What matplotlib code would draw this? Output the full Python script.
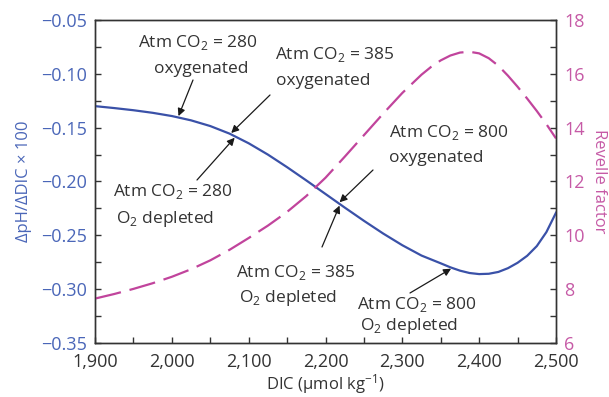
import matplotlib
matplotlib.use('Agg')
import matplotlib.pyplot as plt
from matplotlib.ticker import MultipleLocator, FuncFormatter
import numpy as np

plt.rcParams['font.family'] = ['Open Sans', 'DejaVu Sans']
plt.rcParams['mathtext.fontset'] = 'custom'
plt.rcParams['mathtext.rm'] = 'Open Sans'

# data
dic_ph = [1900, 1925, 1950, 1975, 2000, 2025, 2050, 2075, 2100, 2125, 2150, 2175,
          2200, 2225, 2250, 2275, 2300, 2325, 2350, 2362.5, 2375, 2387.5, 2400,
          2412.5, 2425, 2437.5, 2450, 2462.5, 2475, 2487.5, 2500]
dph_ddic = [-0.1300, -0.1318, -0.1338, -0.1362, -0.1392, -0.1432, -0.1485, -0.1555,
            -0.1645, -0.1750, -0.1867, -0.1990, -0.2116, -0.2242, -0.2365, -0.2483,
            -0.2592, -0.2688, -0.2760, -0.2797, -0.2828, -0.2850, -0.2860, -0.2857,
            -0.2840, -0.2805, -0.2755, -0.2690, -0.2600, -0.2470, -0.2290]

dic_rf = [1900, 1925, 1950, 1975, 2000, 2025, 2050, 2075, 2100, 2125, 2150, 2175,
          2200, 2225, 2250, 2275, 2300, 2325, 2337.5, 2350, 2362.5, 2375, 2387.5,
          2400, 2412.5, 2425, 2437.5, 2450, 2462.5, 2475, 2487.5, 2500]
revelle = [7.65, 7.82, 8.01, 8.22, 8.46, 8.74, 9.07, 9.46, 9.90, 10.36, 10.87,
           11.46, 12.14, 12.92, 13.72, 14.52, 15.29, 15.97, 16.26, 16.50, 16.68,
           16.79, 16.82, 16.76, 16.58, 16.30, 15.93, 15.52, 15.08, 14.62, 14.13,
           13.60]

# annotated points on the blue curve (DIC)
ann_dic = [2008, 2076, 2083, 2217, 2219, 2365]

BLUE = '#3a51a8'
BLUE_TXT = '#4a66b8'
MAG = '#c1449c'
MAG_TXT = '#c65aa6'
TXT = '#333333'

W, H = 609, 397
fig = plt.figure(figsize=(W / 100, H / 100), dpi=100)
L, R, T, B = 95, 556, 20, 343
ax = fig.add_axes([L / W, 1 - B / H, (R - L) / W, (B - T) / H])
ax2 = ax.twinx()

ax.plot(dic_ph, dph_ddic, color=BLUE, lw=1.6, zorder=3)
ax2.plot(dic_rf, revelle, color=MAG, lw=1.6, dashes=(12, 4))

ax.set_xlim(1900, 2500)
ax.set_ylim(-0.35, -0.05)
ax2.set_ylim(6, 18)

ax.xaxis.set_major_locator(MultipleLocator(100))
ax.xaxis.set_minor_locator(MultipleLocator(50))
ax.xaxis.set_major_formatter(FuncFormatter(lambda v, p: f'{int(v):,}'))
ax.yaxis.set_major_locator(MultipleLocator(0.05))
ax.yaxis.set_minor_locator(MultipleLocator(0.025))
ax.yaxis.set_major_formatter(FuncFormatter(lambda v, p: f'{v:.2f}'.replace('-', '\u2212')))
ax2.yaxis.set_major_locator(MultipleLocator(2))
ax2.yaxis.set_minor_locator(MultipleLocator(1))

for a in (ax, ax2):
    for s in a.spines.values():
        s.set_color(TXT)
        s.set_linewidth(1.0)
ax.tick_params(axis='both', which='both', direction='in', length=4, width=1,
               color=TXT, labelsize=13)
ax.tick_params(axis='x', labelcolor=TXT, pad=7)
ax.tick_params(axis='y', labelcolor=BLUE_TXT, pad=6)
ax2.tick_params(axis='y', which='both', direction='in', length=4, width=1,
                color=TXT, labelsize=13, labelcolor=MAG_TXT, pad=6)

ax.set_xlabel('DIC (\u03bcmol $\\mathregular{kg^{-1}}$)', fontsize=12, color=TXT, labelpad=1)
ax.set_ylabel('\u0394pH/\u0394DIC \u00d7 100', fontsize=12, color=BLUE_TXT, labelpad=6)
ax2.set_ylabel('Revelle factor', fontsize=12, color=MAG_TXT, rotation=270, labelpad=16)


def axpos(px, py):
    return (px - L) / (R - L), (B - py) / (B - T)


CO2 = 'Atm CO$_\\mathregular{2}$'
O2 = 'O$_\\mathregular{2}$ depleted'
labels = [
    (198, 43, CO2 + ' = 280', 'center'),
    (201, 69, 'oxygenated', 'center'),
    (275, 55, CO2 + ' = 385', 'left'),
    (276, 81, 'oxygenated', 'left'),
    (113, 192, CO2 + ' = 280', 'left'),
    (116, 219, O2, 'left'),
    (389, 133, CO2 + ' = 800', 'left'),
    (389, 158, 'oxygenated', 'left'),
    (236, 273, CO2 + ' = 385', 'left'),
    (239, 298, O2, 'left'),
    (357, 305, CO2 + ' = 800', 'left'),
    (360, 326, O2, 'left'),
]
for px, py, s, ha in labels:
    x, y = axpos(px, py)
    ax.text(x, y, s, transform=ax.transAxes, ha=ha, va='center',
            fontsize=12.5, color=TXT, zorder=5)

tails = [(193, 80), (270, 95), (197, 180), (373, 170), (322, 247), (410, 293)]
for d, (px, py) in zip(ann_dic, tails):
    yv = np.interp(d, dic_ph, dph_ddic)
    ax.annotate('', xy=(d, yv), xycoords='data',
                xytext=axpos(px, py), textcoords='axes fraction',
                arrowprops=dict(arrowstyle='-|>', color='#1a1a1a', lw=0.9,
                                mutation_scale=11, shrinkA=0, shrinkB=1),
                zorder=6)

fig.savefig('out.png', dpi=100)
